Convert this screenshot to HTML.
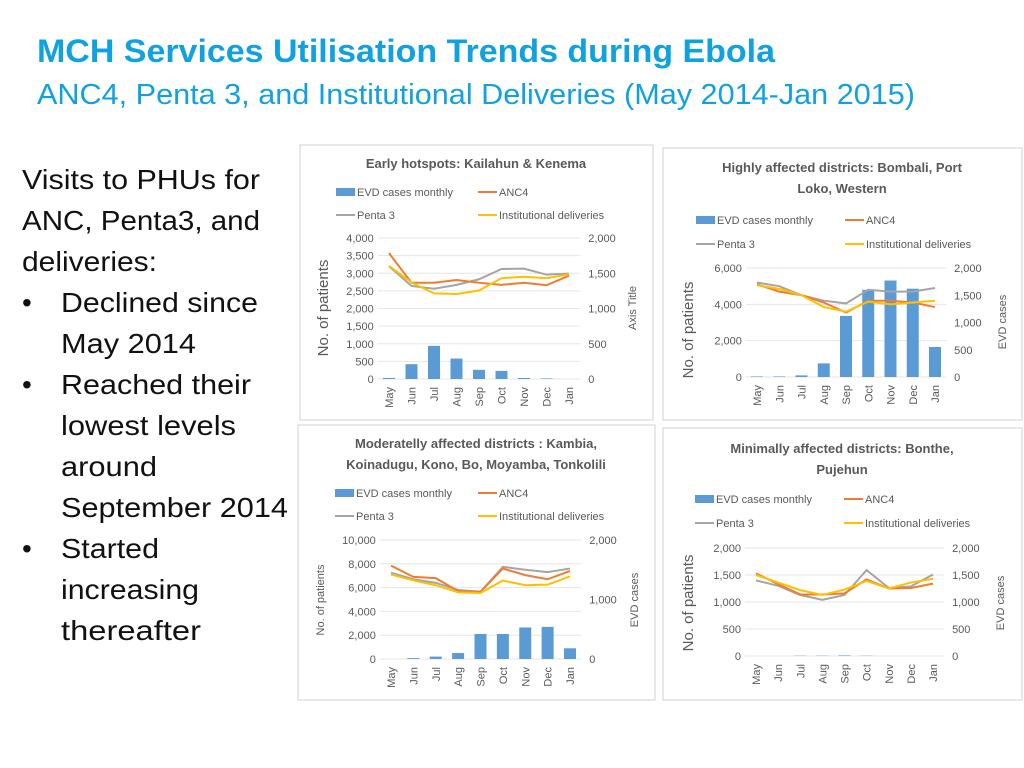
<!DOCTYPE html>
<html><head><meta charset="utf-8"><style>
html,body{margin:0;padding:0;background:#fff;}
svg{display:block;font-family:"Liberation Sans",sans-serif;}
</style></head><body>
<svg id="s" width="1024" height="768" xmlns="http://www.w3.org/2000/svg">
<text x="37" y="62" font-size="32" font-weight="bold" fill="#10a2e0" textLength="738" lengthAdjust="spacingAndGlyphs">MCH Services Utilisation Trends during Ebola</text>
<text x="37" y="104" font-size="29" fill="#10a2e0" textLength="878" lengthAdjust="spacingAndGlyphs">ANC4, Penta 3, and Institutional Deliveries (May 2014-Jan 2015)</text>
<g font-size="28" fill="#111">
<text x="22" y="189" textLength="238" lengthAdjust="spacingAndGlyphs">Visits to PHUs for</text>
<text x="22" y="230" textLength="238" lengthAdjust="spacingAndGlyphs">ANC, Penta3, and</text>
<text x="22" y="271" textLength="135" lengthAdjust="spacingAndGlyphs">deliveries:</text>
<text x="22" y="312">•</text><text x="61" y="312" textLength="197" lengthAdjust="spacingAndGlyphs">Declined since</text>
<text x="61" y="353" textLength="135" lengthAdjust="spacingAndGlyphs">May 2014</text>
<text x="22" y="394">•</text><text x="61" y="394" textLength="190" lengthAdjust="spacingAndGlyphs">Reached their</text>
<text x="61" y="435" textLength="175" lengthAdjust="spacingAndGlyphs">lowest levels</text>
<text x="61" y="476" textLength="96" lengthAdjust="spacingAndGlyphs">around</text>
<text x="61" y="517" textLength="227" lengthAdjust="spacingAndGlyphs">September 2014</text>
<text x="22" y="558">•</text><text x="61" y="558" textLength="98" lengthAdjust="spacingAndGlyphs">Started</text>
<text x="61" y="599" textLength="138" lengthAdjust="spacingAndGlyphs">increasing</text>
<text x="61" y="640" textLength="140" lengthAdjust="spacingAndGlyphs">thereafter</text>
</g>
</svg>
<script>
const months=["May","Jun","Jul","Aug","Sep","Oct","Nov","Dec","Jan"];
// Chart 1
const c1Evd=[15,210,470,290,130,115,15,8,0];
const c1Anc=[3570,2730,2730,2810,2730,2670,2730,2660,2930];
const c1Penta=[3200,2640,2560,2670,2830,3120,3130,2960,2990];
const c1Inst=[3210,2740,2430,2410,2510,2860,2900,2860,2970];
const c1LeftTicks=[0,500,1000,1500,2000,2500,3000,3500,4000];
const c1RightTicks=[0,500,1000,1500,2000];
// Chart 2
const c2Evd=[10,10,30,250,1120,1600,1770,1620,550];
const c2Anc=[5100,4700,4500,4100,3550,4200,4200,4100,3850];
const c2Penta=[5200,5000,4500,4200,4050,4800,4700,4700,4900];
const c2Inst=[5050,4850,4500,3850,3600,4150,4000,4100,4200];
const c2LeftTicks=[0,2000,4000,6000];
const c2RightTicks=[0,500,1000,1500,2000];
// Chart 3
const c3Evd=[0,15,40,100,420,420,530,540,180];
const c3Anc=[7850,6900,6800,5700,5650,7600,7050,6700,7400];
const c3Penta=[7250,6700,6400,5800,5650,7750,7500,7300,7600];
const c3Inst=[7100,6600,6200,5600,5550,6600,6200,6250,6950];
const c3LeftTicks=[0,2000,4000,6000,8000,10000];
const c3RightTicks=[0,1000,2000];
// Chart 4
const c4Evd=[0,0,5,5,10,5,0,0,0];
const c4Anc=[1530,1330,1140,1140,1160,1420,1250,1260,1340];
const c4Penta=[1400,1300,1130,1040,1130,1590,1260,1290,1510];
const c4Inst=[1500,1360,1220,1130,1230,1390,1250,1360,1430];
const c4LeftTicks=[0,500,1000,1500,2000];
const c4RightTicks=[0,500,1000,1500,2000];

const svg=document.getElementById('s');
const NS="http://www.w3.org/2000/svg";
function mk(tag,attrs,parent,txt){const e=document.createElementNS(NS,tag);for(const k in attrs)e.setAttribute(k,attrs[k]);if(txt!==undefined)e.textContent=txt;parent.appendChild(e);return e;}
const fmt=v=>v.toLocaleString('en-US');

function chart(cfg){
  const g=mk('g',{},svg);
  
  
  const bg=mk('rect',{x:cfg.box[0],y:cfg.box[1],width:cfg.box[2],height:cfg.box[3],fill:'#fff',stroke:'#d0d0d0'},g);
  
  
  cfg.title.forEach((t,i)=>{
    const e=mk('text',{x:cfg.tx,y:cfg.ty+i*21,'font-size':13,'font-weight':'bold',fill:'#595959','text-anchor':'middle'},g,t);
    
    
  });
  const L=cfg.leg;
  const items=[['EVD cases monthly','#5b9bd5',L.x1,L.y1,true],['ANC4','#ed7d31',L.x2,L.y1],['Penta 3','#a5a5a5',L.x1,L.y2],['Institutional deliveries','#ffc000',L.x2,L.y2]];
  items.forEach(it=>{
    const lg=mk('g',{},g);
    
    
    if(it[4]) mk('rect',{x:it[2],y:it[3]-4,width:19,height:8,fill:it[1]},lg);
    else mk('line',{x1:it[2],y1:it[3],x2:it[2]+19,y2:it[3],stroke:it[1],'stroke-width':2},lg);
    mk('text',{x:it[2]+21,y:it[3]+4,'font-size':11,fill:'#595959'},lg,it[0]);
  });
  const lmax=cfg.lt[cfg.lt.length-1], rmax=cfg.rt[cfg.rt.length-1];
  const yL=v=>cfg.y0-(v/lmax)*(cfg.y0-cfg.yTop);
  const yR=v=>cfg.y0-(v/rmax)*(cfg.y0-cfg.yTop);
  const xS=i=>cfg.x0+i*(cfg.x1-cfg.x0)/(months.length-1);
  const step=(cfg.x1-cfg.x0)/(months.length-1);
  cfg.lt.forEach(v=>{
    const gl=mk('line',{x1:cfg.x0-step/2,x2:cfg.x1+step/2,y1:yL(v),y2:yL(v),stroke:'#e6e6e6'},g);
    
    
    const t=mk('text',{x:cfg.x0-step/2-4,y:yL(v)+4,'font-size':11,fill:'#595959','text-anchor':'end'},g,fmt(v));
    
    
  });
  cfg.rt.forEach(v=>{
    const t=mk('text',{x:cfg.x1+step/2+8,y:yR(v)+4,'font-size':11,fill:'#595959'},g,fmt(v));
    
    
  });
  months.forEach((m,i)=>{
    const t=mk('text',{x:0,y:0,'font-size':11,fill:'#595959','text-anchor':'end',transform:`translate(${xS(i)+4},${cfg.y0+8}) rotate(-90)`},g,m);
    
    
  });
  cfg.evd.forEach((v,i)=>{
    const b=mk('rect',{x:xS(i)-6,y:yR(v),width:12,height:cfg.y0-yR(v),fill:'#5b9bd5'},g);
    
    
  });
  [['penta3','#a5a5a5',cfg.penta],['anc4','#ed7d31',cfg.anc],['institutional-deliveries','#ffc000',cfg.inst]].forEach(s=>{
    const p=mk('polyline',{points:s[2].map((v,i)=>xS(i)+','+yL(v)).join(' '),fill:'none',stroke:s[1],'stroke-width':2},g);
    
    
  });
  const yt=mk('text',{x:0,y:0,'font-size':cfg.ytSize,fill:'#595959','text-anchor':'middle',transform:`translate(${cfg.ytX},${cfg.ytY}) rotate(-90)`},g,'No. of patients');
  
  
  const rt=mk('text',{x:0,y:0,'font-size':11,fill:'#595959','text-anchor':'middle',transform:`translate(${cfg.rtX},${cfg.rtY}) rotate(-90)`},g,cfg.rtitle);
  
  
}
chart({name:'chart-early-hotspots',box:[300,145,353,275],title:['Early hotspots: Kailahun & Kenema'],tx:476,ty:168,
  leg:{x1:336,x2:478,y1:192,y2:215},y0:379,yTop:238,x0:389,x1:569,lt:c1LeftTicks,rt:c1RightTicks,
  evd:c1Evd,anc:c1Anc,penta:c1Penta,inst:c1Inst,ytSize:15,ytX:328,ytY:308,rtitle:'Axis Title',rtX:636,rtY:308});
chart({name:'chart-highly-affected',box:[663,148,359,272],title:['Highly affected districts: Bombali, Port','Loko, Western'],tx:842,ty:172,
  leg:{x1:696,x2:845,y1:220,y2:244},y0:377,yTop:268,x0:757,x1:935,lt:c2LeftTicks,rt:c2RightTicks,
  evd:c2Evd,anc:c2Anc,penta:c2Penta,inst:c2Inst,ytSize:15,ytX:693,ytY:330,rtitle:'EVD cases',rtX:1006,rtY:322});
chart({name:'chart-moderately-affected',box:[298,425,357,275],title:['Moderatelly affected districts : Kambia,','Koinadugu, Kono, Bo, Moyamba, Tonkolili'],tx:476,ty:448,
  leg:{x1:335,x2:478,y1:493,y2:516},y0:659,yTop:540,x0:391,x1:570,lt:c3LeftTicks,rt:c3RightTicks,
  evd:c3Evd,anc:c3Anc,penta:c3Penta,inst:c3Inst,ytSize:11,ytX:324,ytY:600,rtitle:'EVD cases',rtX:638,rtY:600});
chart({name:'chart-minimally-affected',box:[663,428,359,272],title:['Minimally affected districts: Bonthe,','Pujehun'],tx:842,ty:453,
  leg:{x1:695,x2:844,y1:499,y2:523},y0:656,yTop:548,x0:756,x1:933,lt:c4LeftTicks,rt:c4RightTicks,
  evd:c4Evd,anc:c4Anc,penta:c4Penta,inst:c4Inst,ytSize:15,ytX:693,ytY:603,rtitle:'EVD cases',rtX:1004,rtY:603});
</script>
</body></html>
